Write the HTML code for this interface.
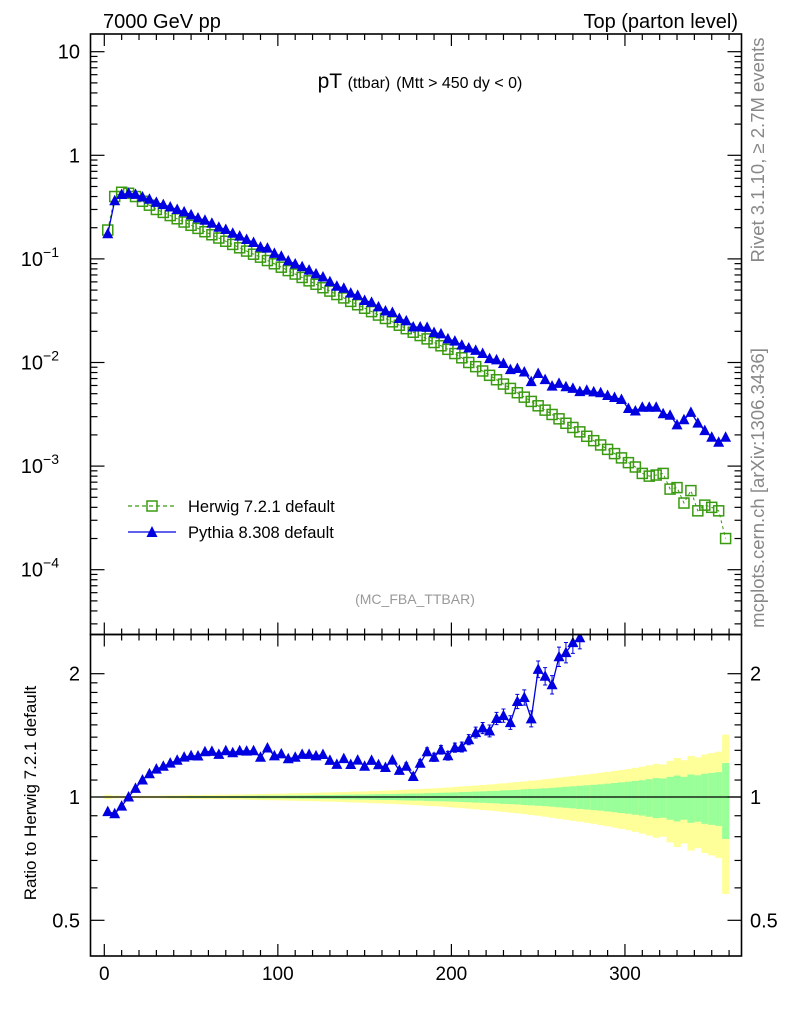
<!DOCTYPE html>
<html><head><meta charset="utf-8"><style>
html,body{margin:0;padding:0;background:#fff;}
svg{display:block;font-family:"Liberation Sans",sans-serif;}
</style></head><body>
<svg id="chart" width="786" height="1024" viewBox="0 0 786 1024" xmlns="http://www.w3.org/2000/svg">
<g id="bands"></g>
<g id="marks"></g>
<g id="axes"></g>
<text x="103" y="28" font-size="20">7000 GeV pp</text>
<text x="738" y="28" font-size="20" text-anchor="end">Top (parton level)</text>
<text x="420" y="88" font-size="21" text-anchor="middle">pT <tspan font-size="16">(ttbar)</tspan> <tspan font-size="16">(Mtt &gt; 450 dy &lt; 0)</tspan></text>
<text transform="translate(764,150) rotate(-90)" font-size="18.5" fill="#888" text-anchor="middle">Rivet 3.1.10, ≥ 2.7M events</text>
<text transform="translate(764,488) rotate(-90)" font-size="18.5" fill="#888" text-anchor="middle">mcplots.cern.ch [arXiv:1306.3436]</text>
<text x="415" y="604" font-size="14" fill="#999" text-anchor="middle">(MC_FBA_TTBAR)</text>
<text transform="translate(36,793) rotate(-90)" font-size="17" text-anchor="middle">Ratio to Herwig 7.2.1 default</text>
<g>
<g>
<line x1="128" y1="506" x2="176" y2="506" stroke="#3a9a10" stroke-width="1.3" stroke-dasharray="4,3"/>
<rect x="147" y="501" width="10" height="10" fill="none" stroke="#3a9a10" stroke-width="1.5"/>
<text x="188" y="512" font-size="16.5">Herwig 7.2.1 default</text></g>
<g>
<line x1="128" y1="532" x2="176" y2="532" stroke="#0000e0" stroke-width="1.3"/>
<polygon points="152,526 146.5,537 157.5,537" fill="#0000e0"/>
<text x="188" y="538" font-size="16.5">Pythia 8.308 default</text></g>
</g>
</svg>
<script>
const xCenters = [2,6,10,14,18,22,26,30,34,38,42,46,50,54,58,62,66,70,74,78,82,86,90,94,98,102,106,110,114,118,122,126,130,134,138,142,146,150,154,158,162,166,170,174,178,182,186,190,194,198,202,206,210,214,218,222,226,230,234,238,242,246,250,254,258,262,266,270,274,278,282,286,290,294,298,302,306,310,314,318,322,326,330,334,338,342,346,350,354,358];
const herwig = [0.19,0.40,0.44,0.43,0.40,0.36,0.33,0.30,0.281,0.262,0.244,0.227,0.211,0.197,0.183,0.171,0.159,0.148,0.138,0.128,0.119,0.111,0.104,0.0964,0.0897,0.0832,0.0771,0.0714,0.0662,0.0614,0.0569,0.0527,0.0489,0.0453,0.0420,0.0389,0.0361,0.0334,0.0310,0.0287,0.0266,0.0247,0.0229,0.0212,0.0196,0.0182,0.0169,0.0156,0.0145,0.0134,0.0122,0.0111,0.0100,0.00912,0.00828,0.00752,0.00682,0.00619,0.00562,0.00511,0.00463,0.00421,0.00382,0.00347,0.00315,0.00286,0.00259,0.00236,0.00214,0.00194,0.00176,0.00160,0.00145,0.00132,0.00120,0.00108,0.00098,0.00085,0.00080,0.00082,0.00085,0.00060,0.00062,0.00044,0.00058,0.00037,0.00042,0.00040,0.00037,0.00020];
const pythia = [0.175,0.364,0.418,0.430,0.420,0.396,0.376,0.351,0.334,0.317,0.300,0.284,0.266,0.248,0.236,0.221,0.202,0.192,0.177,0.166,0.154,0.144,0.130,0.127,0.113,0.106,0.0956,0.0893,0.0841,0.0780,0.0717,0.0669,0.0601,0.0544,0.0521,0.0467,0.0444,0.0397,0.0381,0.0344,0.0314,0.0304,0.0266,0.0252,0.0220,0.0220,0.0218,0.0195,0.0189,0.0169,0.0161,0.0147,0.0138,0.0131,0.0122,0.0109,0.0106,0.00978,0.00854,0.00874,0.00810,0.00653,0.00783,0.00684,0.00592,0.00629,0.00583,0.00562,0.00524,0.0054,0.0052,0.0051,0.0048,0.0046,0.0044,0.0036,0.0034,0.0037,0.0037,0.0037,0.0032,0.0031,0.0025,0.0028,0.0033,0.0026,0.0022,0.0019,0.0017,0.0019];
const statErr = [.003,.002,.002,.002,.002,.003,.003,.003,.003,.004,.004,.004,.005,.005,.005,.005,.005,.005,.006,.006,.007,.007,.008,.008,.008,.008,.009,.009,.010,.010,.011,.011,.011,.012,.013,.013,.014,.014,.015,.016,.017,.017,.018,.019,.020,.020,.022,.023,.024,.025,.026,.028,.029,.031,.032,.034,.035,.038,.039,.041,.044,.046,.048,.050,.053,.056,.059,.062,.065,.068,.071,.074,.078,.082,.086,.090,.095,.099,.105,.112,.110,.120,.128,.120,.135,.130,.140,.145,.150,.21];
const totErr = [.012,.008,.007,.006,.006,.007,.007,.007,.008,.009,.009,.010,.011,.011,.012,.012,.013,.013,.014,.014,.015,.016,.017,.018,.018,.019,.020,.021,.022,.023,.024,.025,.026,.027,.028,.030,.031,.032,.034,.035,.037,.038,.040,.042,.044,.046,.048,.050,.052,.055,.058,.061,.064,.067,.070,.073,.077,.080,.084,.088,.092,.096,.100,.105,.110,.115,.120,.125,.130,.135,.140,.146,.152,.158,.164,.170,.178,.186,.195,.205,.200,.225,.245,.230,.260,.250,.270,.280,.290,.42];
const mainTickLabels = ["10","1","10","10","10","10"];
const mainTickExp = [null,null,"−1","−2","−3","−4"];
const mainTickValues = [10,1,0.1,0.01,0.001,0.0001];
const ratioTickValues = [2,1,0.5];
const ratioTickLabels = ["2","1","0.5"];
const xTickValues = [0,100,200,300];
const xTickLabels = ["0","100","200","300"];

const NS = "http://www.w3.org/2000/svg";
const L = 90.5, R = 741.5, MT = 34, MB = 634.5, RT = 634.5, RB = 956;
const BW = 4;
function xs(v){ return 104.3 + v*1.7355; }
function ym(v){ return 51.7 - 103.6*(Math.log10(v) - 1); }
function yr(v){ return 797 - 123.3*Math.log2(v); }
function mk(tag, attrs, parent){
  const e = document.createElementNS(NS, tag);
  for (const k in attrs) e.setAttribute(k, attrs[k]);
  parent.appendChild(e);
  return e;
}
const bands = document.getElementById('bands');
const marks = document.getElementById('marks');
const axes = document.getElementById('axes');

for (let i = 0; i < xCenters.length; i++) {
  const x0 = xs(xCenters[i]-BW/2), x1 = xs(xCenters[i]+BW/2);
  const y1 = yr(1+totErr[i]), y2 = yr(1-totErr[i]);
  const b1 = mk('rect', {x:x0, y:y1, width:x1-x0+0.3, height:y2-y1, fill:'#ffff99'}, bands);
  
  
  const s1 = yr(1+statErr[i]), s2 = yr(1-statErr[i]);
  const b2 = mk('rect', {x:x0, y:s1, width:x1-x0+0.3, height:s2-s1, fill:'#99ff99'}, bands);
  
  
}
const refLine = mk('line', {x1:xs(0), x2:R, y1:yr(1), y2:yr(1), stroke:'#000', 'stroke-width':1.2}, bands);


const refLineG = mk('line', {x1:L, x2:xs(0), y1:yr(1), y2:yr(1), stroke:'#3a9a10', 'stroke-width':1.2}, bands);



let hp = '';
xCenters.forEach((x,i)=>{ hp += (i?'L':'M') + xs(x).toFixed(1) + ',' + ym(herwig[i]).toFixed(1); });
const hl = mk('path', {d:hp, fill:'none', stroke:'#3a9a10', 'stroke-width':1, 'stroke-dasharray':'3,3'}, marks);


xCenters.forEach((x,i)=>{
  const cx = xs(x), cy = ym(herwig[i]);
  const r = mk('rect', {x:cx-5, y:cy-5, width:10, height:10, fill:'none', stroke:'#3a9a10', 'stroke-width':1.5}, marks);
  
  
});
let pp = '';
xCenters.forEach((x,i)=>{ pp += (i?'L':'M') + xs(x).toFixed(1) + ',' + ym(pythia[i]).toFixed(1); });
const pl = mk('path', {d:pp, fill:'none', stroke:'#0000e0', 'stroke-width':1.3}, marks);


xCenters.forEach((x,i)=>{
  const cx = xs(x), cy = ym(pythia[i]);
  const t = mk('polygon', {points:`${cx},${cy-6} ${cx-5.5},${cy+4.5} ${cx+5.5},${cy+4.5}`, fill:'#0000e0'}, marks);
  
  
});

const clip = mk('clipPath', {id:'rclip'}, marks);
mk('rect', {x:L, y:RT, width:R-L, height:RB-RT}, clip);
const rg = mk('g', {'clip-path':'url(#rclip)'}, marks);


let rp = '';
xCenters.forEach((x,i)=>{ rp += (i?'L':'M') + xs(x).toFixed(1) + ',' + yr(pythia[i]/herwig[i]).toFixed(1); });
const rl = mk('path', {d:rp, fill:'none', stroke:'#0000e0', 'stroke-width':1.3}, rg);


xCenters.forEach((x,i)=>{
  const cx = xs(x), rv = pythia[i]/herwig[i], cy = yr(rv);
  if (xCenters[i] > 170) {
    const e = statErr[i]*1.0;
    const ya = yr(rv*(1+e)), yb = yr(rv/(1+e));
    const eb = mk('path', {d:`M${cx},${ya}L${cx},${yb}M${cx-2},${ya}L${cx+2},${ya}M${cx-2},${yb}L${cx+2},${yb}`, stroke:'#0000e0', 'stroke-width':1, fill:'none'}, rg);
    
    
  }
  const t = mk('polygon', {points:`${cx},${cy-6} ${cx-5.5},${cy+4.5} ${cx+5.5},${cy+4.5}`, fill:'#0000e0'}, rg);
  
  
});

const f1 = mk('rect', {x:L, y:MT, width:R-L, height:MB-MT, fill:'none', stroke:'#000', 'stroke-width':1.6}, axes);


const f2 = mk('rect', {x:L, y:RT, width:R-L, height:RB-RT, fill:'none', stroke:'#000', 'stroke-width':1.6}, axes);



function tick(x1,y1,x2,y2,name){
  const t = mk('line', {x1:x1,y1:y1,x2:x2,y2:y2,stroke:'#000','stroke-width':1.2}, axes);
  
  
}
for (let v = 0; v <= 360; v += 10) {
  const x = xs(v), len = (v % 100 === 0) ? 12 : 6;
  [MT, RT].forEach(y=>tick(x,y,x,y+len,'x-tick'));
  [MB, RB].forEach(y=>tick(x,y,x,y-len,'x-tick'));
}
xTickValues.forEach((v,i)=>{
  const t = mk('text', {x:xs(v), y:980, 'font-size':19, 'text-anchor':'middle'}, axes);
  t.textContent = xTickLabels[i];
  
  
});
for (let d = -5; d <= 1; d++) {
  for (let m = 1; m <= 9; m++) {
    const v = m*Math.pow(10,d), y = ym(v);
    if (y < MT || y > MB) continue;
    const len = m === 1 ? 14 : 7;
    tick(L,y,L+len,y,'main-y-tick'); tick(R,y,R-len,y,'main-y-tick');
  }
}
mainTickValues.forEach((v,i)=>{
  const t = mk('text', {x:80, y:ym(v)+7, 'font-size':20, 'text-anchor':'end'}, axes);
  t.textContent = mainTickLabels[i];
  if (mainTickExp[i]) {
    t.setAttribute('x', 59);
    const s = mk('tspan', {'font-size':14, dy:-9}, t);
    s.textContent = mainTickExp[i];
  }
  
  
});
[0.5,0.6,0.7,0.8,0.9,1,1.1,1.2,1.3,1.4,1.5,1.6,1.7,1.8,1.9,2].forEach(v=>{
  const y = yr(v), len = (v===0.5||v===1||v===2) ? 14 : 7;
  tick(L,y,L+len,y,'ratio-y-tick'); tick(R,y,R-len,y,'ratio-y-tick');
});
ratioTickValues.forEach((v,i)=>{
  const t1 = mk('text', {x:80, y:yr(v)+7, 'font-size':20, 'text-anchor':'end'}, axes);
  t1.textContent = ratioTickLabels[i];
  
  
  const t2 = mk('text', {x:750, y:yr(v)+7, 'font-size':20}, axes);
  t2.textContent = ratioTickLabels[i];
  
  
});
</script>
</body></html>
